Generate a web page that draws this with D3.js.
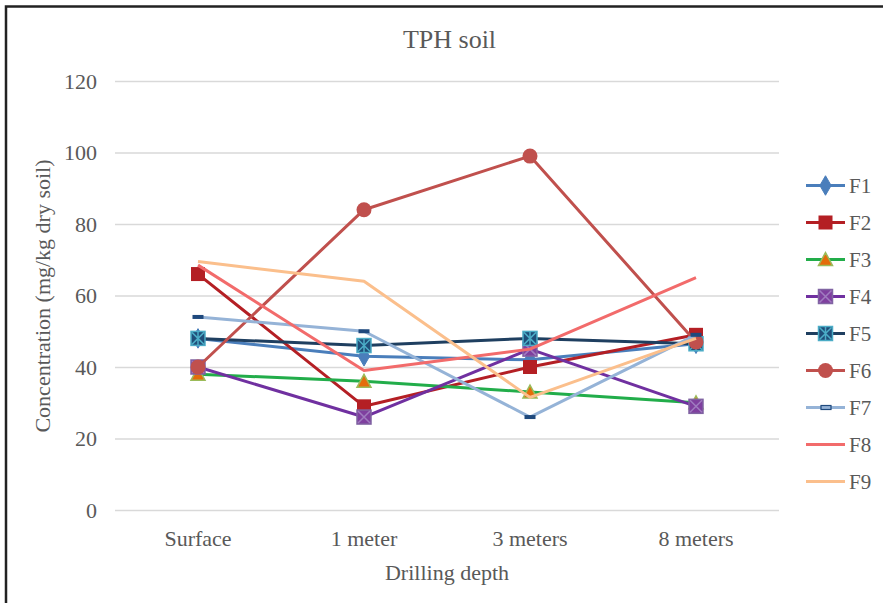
<!DOCTYPE html>
<html><head><meta charset="utf-8">
<script src="https://cdn.jsdelivr.net/npm/d3@7"></script>
<style>
html,body{margin:0;padding:0;background:#fff;}
svg{display:block;}
svg text{font-family:"Liberation Serif","Times New Roman",serif !important;fill:#595959;}
</style></head>
<body>
<script>
const categories = ["Surface", "1 meter", "3 meters", "8 meters"];
const seriesNames = ["F1","F2","F3","F4","F5","F6","F7","F8","F9"];
const F1 = [48, 43, 42, 46.5];
const F2 = [66, 29, 40, 49];
const F3 = [38, 36, 33, 30];
const F4 = [40, 26, 45, 29];
const F5 = [48, 46, 48, 46.5];
const F6 = [40, 84, 99, 47];
const F7 = [54, 50, 26, 49];
const F8 = [68.5, 39, 45, 65];
const F9 = [69.5, 64, 31.5, 48];
const yTicks = [0, 20, 40, 60, 80, 100, 120];
const titleText = "TPH soil";
const xTitle = "Drilling depth";
const yTitle = "Concentration  (mg/kg dry soil)";

const values = [F1,F2,F3,F4,F5,F6,F7,F8,F9];
const styles = [
  {line:"#4a7ebb", marker:"diamond", fill:"#4a7ebb", stroke:"#4a7ebb"},
  {line:"#b41f24", marker:"square", fill:"#b41f24", stroke:"#b41f24"},
  {line:"#22ad4a", marker:"triangle", fill:"#e46c0a", stroke:"#9bbb59"},
  {line:"#7030a0", marker:"squareX", fill:"#7f3f9f", stroke:"#8064a2", x:"#a07cc0"},
  {line:"#1f3f60", marker:"squareStar", fill:"#1f4e79", stroke:"#4bacc6", x:"#4bacc6"},
  {line:"#c0504d", marker:"circle", fill:"#c0504d", stroke:"#c0504d"},
  {line:"#95b3d7", marker:"dash", fill:"#1f497d", stroke:"#1f497d"},
  {line:"#f26b6b", marker:null},
  {line:"#fbbf8c", marker:null}
];
const FONT = "Liberation Serif, Times New Roman, serif";

const W = 883, H = 603;
const svg = d3.select("body").append("svg").attr("width", W).attr("height", H);
svg.append("rect").attr("width", W).attr("height", H).attr("fill", "#fff");
// frame
svg.append("rect").attr("x", 6).attr("y", 6.5).attr("width", W + 10).attr("height", H + 10)
  .attr("fill", "none").attr("stroke", "#222").attr("stroke-width", 2.5);

const pLeft = 115, pRight = 779, pTop = 81, pBottom = 510;
const x = d3.scaleBand().domain(categories).range([pLeft, pRight]);
const y = d3.scaleLinear().domain([0, 120]).range([pBottom, pTop]);

// gridlines
const yAxis = d3.axisLeft(y).tickValues(yTicks).tickSize(-(pRight - pLeft)).tickPadding(18);
const gy = svg.append("g").attr("transform", `translate(${pLeft},0)`).call(yAxis)
  .attr("font-family", FONT).attr("font-size", 22);
gy.select(".domain").remove();
gy.selectAll(".tick line").attr("stroke", "#d9d9d9").attr("stroke-width", 1.3);
gy.selectAll(".tick text").attr("fill", "#595959");

const xAxis = d3.axisBottom(x).tickSize(0).tickPadding(20);
const gx = svg.append("g").attr("transform", `translate(0,${pBottom})`).call(xAxis)
  .attr("font-family", FONT).attr("font-size", 22);
gx.select(".domain").remove();
gx.selectAll(".tick text").attr("fill", "#595959");

// titles
svg.append("text").attr("x", 449.5).attr("y", 48).attr("text-anchor", "middle")
  .attr("font-family", FONT).attr("font-size", 26).text(titleText);
svg.append("text").attr("x", 447).attr("y", 580).attr("text-anchor", "middle")
  .attr("font-family", FONT).attr("font-size", 22).text(xTitle);
svg.append("text").attr("transform", "translate(50,296) rotate(-90)").attr("text-anchor", "middle")
  .attr("font-family", FONT).attr("font-size", 22).text(yTitle);

const cx = c => x(c) + x.bandwidth() / 2;
const line = d3.line().x(d => cx(d.c)).y(d => y(d.v));

function drawMarker(g, st, px, py) {
  if (!st.marker) return;
  const m = st.marker;
  if (m === "diamond") {
    g.append("path").attr("d", d3.symbol(d3.symbolDiamond, 110)()).attr("transform", `translate(${px},${py})`)
      .attr("fill", st.fill).attr("stroke", st.stroke);
  } else if (m === "square") {
    g.append("rect").attr("x", px - 7).attr("y", py - 7).attr("width", 14).attr("height", 14).attr("fill", st.fill);
  } else if (m === "triangle") {
    g.append("path").attr("d", `M${px},${py-7}L${px+7},${py+6}L${px-7},${py+6}Z`)
      .attr("fill", st.fill).attr("stroke", st.stroke).attr("stroke-width", 1.5);
  } else if (m === "squareX" || m === "squareStar") {
    g.append("rect").attr("x", px - 7).attr("y", py - 7).attr("width", 14).attr("height", 14)
      .attr("fill", st.fill).attr("stroke", st.stroke).attr("stroke-width", 1.5);
    g.append("path").attr("d", `M${px-6},${py-6}L${px+6},${py+6}M${px+6},${py-6}L${px-6},${py+6}` + (m === "squareStar" ? `M${px},${py-7}L${px},${py+7}` : ""))
      .attr("stroke", st.x).attr("stroke-width", 1.5).attr("fill", "none");
  } else if (m === "circle") {
    g.append("circle").attr("cx", px).attr("cy", py).attr("r", 7.5).attr("fill", st.fill);
  } else if (m === "dash") {
    g.append("rect").attr("x", px - 5.5).attr("y", py - 2).attr("width", 11).attr("height", 4)
      .attr("fill", st.fill);
  }
}

values.forEach((vals, i) => {
  const st = styles[i];
  const g = svg.append("g");
  const data = vals.map((v, j) => ({c: categories[j], v}));
  g.append("path").datum(data).attr("d", line).attr("fill", "none")
    .attr("stroke", st.line).attr("stroke-width", 3).attr("stroke-linejoin", "round");
  data.forEach(d => drawMarker(g, st, cx(d.c), y(d.v)));
});

// legend
const legY0 = 185.5, legStep = 37;
seriesNames.forEach((name, i) => {
  const st = styles[i];
  const g = svg.append("g");
  const ly = legY0 + i * legStep;
  g.append("line").attr("x1", 806).attr("x2", 845).attr("y1", ly).attr("y2", ly)
    .attr("stroke", st.line).attr("stroke-width", 3);
  if (st.marker === "dash") {
    g.append("rect").attr("x", 821).attr("y", ly - 2).attr("width", 10).attr("height", 4)
      .attr("fill", "#95b3d7").attr("stroke", st.fill).attr("stroke-width", 1.2);
  } else {
    drawMarker(g, st, 825.5, ly);
  }
  g.append("text").attr("x", 849).attr("y", ly + 7).attr("font-family", FONT).attr("font-size", 21).text(name);
});
</script>
</body></html>
